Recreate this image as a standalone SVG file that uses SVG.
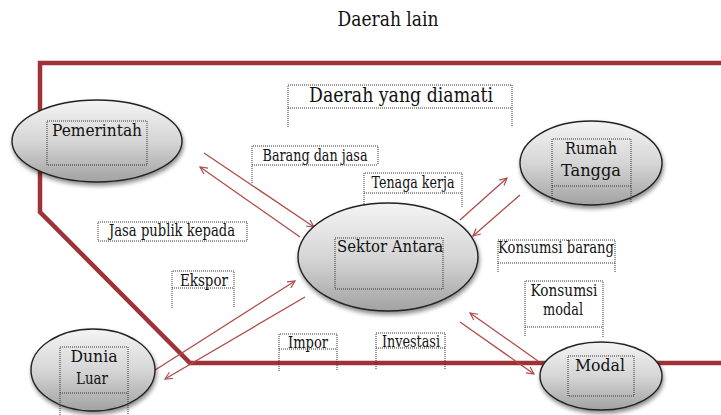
<svg xmlns="http://www.w3.org/2000/svg" width="721" height="415" viewBox="0 0 721 415">
<defs>
<linearGradient id="g" x1="0" y1="0" x2="0" y2="1">
<stop offset="0" stop-color="#f4f4f4"/>
<stop offset="0.5" stop-color="#d6d6d6"/>
<stop offset="1" stop-color="#a2a2a2"/>
</linearGradient>
<filter id="sh" x="-20%" y="-20%" width="140%" height="150%">
<feDropShadow dx="1" dy="3" stdDeviation="2" flood-color="#000" flood-opacity="0.45"/>
</filter>
<marker id="ah" viewBox="0 0 10 10" refX="9" refY="5" markerWidth="9" markerHeight="9" markerUnits="userSpaceOnUse" orient="auto">
<path d="M1,1 L9,5 L1,9" fill="none" stroke="#b04a4a" stroke-width="1.3"/>
</marker>
</defs>
<style>
.border{fill:none;stroke:#9e3236;stroke-width:4.5;stroke-linejoin:miter}
.node{fill:url(#g);stroke:#222;stroke-width:1.4;filter:url(#sh)}
.dot{fill:none;stroke:#333;stroke-width:1;stroke-dasharray:1 1}
.t{font-family:"DejaVu Serif","Liberation Serif","Noto Serif","Times New Roman",Times,serif;font-size:16px;fill:#111;text-anchor:middle}
.arr{fill:none;stroke:#b04a4a;stroke-width:1.3;marker-end:url(#ah)}
</style>
<rect width="721" height="415" fill="#fff"/>
<text x="388" y="26" class="t" style="font-size:20px" textLength="101" lengthAdjust="spacingAndGlyphs">Daerah lain</text>
<path class="border" d="M721,63 H40 V212 L190,363 H721"/>

<g id="connectors">
<line class="arr" x1="204" y1="153" x2="314" y2="227"/>
<line class="arr" x1="300" y1="237" x2="200" y2="167"/>
<line class="arr" x1="460" y1="220" x2="507" y2="178"/>
<line class="arr" x1="520" y1="195" x2="473" y2="236"/>
<line class="arr" x1="152" y1="372" x2="295" y2="281"/>
<line class="arr" x1="305" y1="297" x2="165" y2="379"/>
<line class="arr" x1="538" y1="361" x2="470" y2="313"/>
<line class="arr" x1="460" y1="322" x2="534" y2="374"/>
</g>

<g id="label-daerah-diamati">
<path class="dot" d="M288,127 V85 H512 V127 M288,108 H512"/>
<text x="401" y="102" class="t" style="font-size:21px" textLength="184" lengthAdjust="spacingAndGlyphs">Daerah yang diamati</text>
</g>
<g id="label-barang-jasa">
<path class="dot" d="M252,183 V146 H378 V165 M252,165 H378"/>
<text x="315" y="161" class="t" textLength="105" lengthAdjust="spacingAndGlyphs">Barang dan jasa</text>
</g>
<g id="label-tenaga-kerja">
<path class="dot" d="M364,208 V173 H462 V208 M364,193 H462"/>
<text x="413" y="188" class="t" textLength="83" lengthAdjust="spacingAndGlyphs">Tenaga kerja</text>
</g>
<g id="label-jasa-publik">
<rect class="dot" x="98" y="222" width="149" height="19"/>
<text x="172" y="236" class="t" textLength="126" lengthAdjust="spacingAndGlyphs">Jasa publik kepada</text>
</g>
<g id="label-ekspor">
<path class="dot" d="M172,308 V271 H234 V308 M172,288 H234"/>
<text x="204" y="286" class="t" textLength="48" lengthAdjust="spacingAndGlyphs">Ekspor</text>
</g>
<g id="label-impor">
<path class="dot" d="M279,371 V334 H337 V371 M279,349 H337"/>
<text x="308" y="348" class="t" textLength="40" lengthAdjust="spacingAndGlyphs">Impor</text>
</g>
<g id="label-investasi">
<path class="dot" d="M376,369 V333 H445 V369 M376,348 H445"/>
<text x="411" y="347" class="t" textLength="58" lengthAdjust="spacingAndGlyphs">Investasi</text>
</g>
<g id="label-konsumsi-barang">
<path class="dot" d="M498,272 V240 H615 V272 M498,263 H615"/>
<text x="556" y="253" class="t" textLength="116" lengthAdjust="spacingAndGlyphs">Konsumsi barang</text>
</g>
<g id="label-konsumsi-modal">
<path class="dot" d="M525,336 V281 H603 V338 M525,327 H603"/>
<text x="564" y="296" class="t" textLength="67" lengthAdjust="spacingAndGlyphs">Konsumsi</text>
<text x="563" y="315" class="t" textLength="40" lengthAdjust="spacingAndGlyphs">modal</text>
</g>

<g id="node-pemerintah">
<ellipse class="node" cx="97" cy="141" rx="85" ry="41"/>
<rect class="dot" x="47" y="121" width="100" height="44"/>
<text x="97" y="136" class="t" textLength="90" lengthAdjust="spacingAndGlyphs">Pemerintah</text>
</g>
<g id="node-rumah-tangga">
<ellipse class="node" cx="591" cy="163" rx="71" ry="42"/>
<path class="dot" d="M552,202 V139 H631 V202 M552,186 H631"/>
<text x="591" y="154" class="t" textLength="52" lengthAdjust="spacingAndGlyphs">Rumah</text>
<text x="591" y="176" class="t" textLength="60" lengthAdjust="spacingAndGlyphs">Tangga</text>
</g>
<g id="node-sektor-antara">
<ellipse class="node" cx="388" cy="257" rx="90" ry="54"/>
<rect class="dot" x="335" y="238" width="108" height="51"/>
<text x="390" y="252" class="t" textLength="106" lengthAdjust="spacingAndGlyphs">Sektor Antara</text>
</g>
<g id="node-dunia-luar">
<ellipse class="node" cx="93" cy="370" rx="62" ry="41"/>
<path class="dot" d="M60,415 V347 H128 V415 M60,393 H128"/>
<text x="94" y="362" class="t" textLength="47" lengthAdjust="spacingAndGlyphs">Dunia</text>
<text x="92" y="384" class="t" textLength="32" lengthAdjust="spacingAndGlyphs">Luar</text>
</g>
<g id="node-modal">
<ellipse class="node" cx="601" cy="376" rx="61" ry="34"/>
<rect class="dot" x="568" y="356" width="66" height="40"/>
<text x="600" y="371" class="t" textLength="50" lengthAdjust="spacingAndGlyphs">Modal</text>
</g>
</svg>
